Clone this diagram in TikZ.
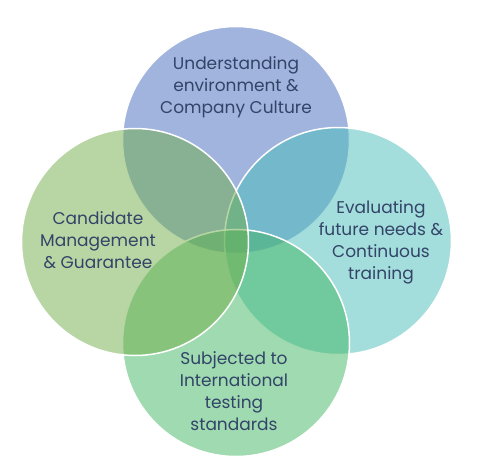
\documentclass[tikz,border=0pt]{standalone}
\usepackage{fontspec}
\setmainfont{Poppins}
\usepackage{tikz}
\usepackage{xcolor}
\usetikzlibrary{positioning}

\definecolor{topblue}{RGB}{65,105,189}
\definecolor{rightteal}{RGB}{73,189,185}
\definecolor{bottomgreen}{RGB}{65,181,97}
\definecolor{leftgreen}{RGB}{113,173,73}
\definecolor{labeltext}{RGB}{50,68,104}

\begin{document}
\begin{tikzpicture}[
    x=1pt, y=-1pt,
    petal/.style={circle, draw=white, line width=1.5pt, fill opacity=0.5, minimum size=227pt, inner sep=0pt},
    label/.style={text=labeltext, align=center, font=\fontsize{17}{22}\selectfont}
]
\useasboundingbox (0,0) rectangle (482,475);

% Circles
\node[petal, fill=topblue] (understand) at (236,140) {};
\node[petal, fill=rightteal] (evaluate) at (338,241) {};
\node[petal, fill=bottomgreen] (testing) at (236,343) {};
\node[petal, fill=leftgreen] (candidate) at (135,242) {};

% Labels
\node[label] (understandtxt) at (236,87) {Understanding\\environment \&\\Company Culture};
\node[label] (evaluatetxt) at (381,242) {Evaluating\\future needs \&\\Continuous\\training};
\node[label] (testingtxt) at (234,391) {Subjected to\\International\\testing\\standards};
\node[label] (candidatetxt) at (98,240) {Candidate\\Management\\\& Guarantee};

\end{tikzpicture}
\end{document}
